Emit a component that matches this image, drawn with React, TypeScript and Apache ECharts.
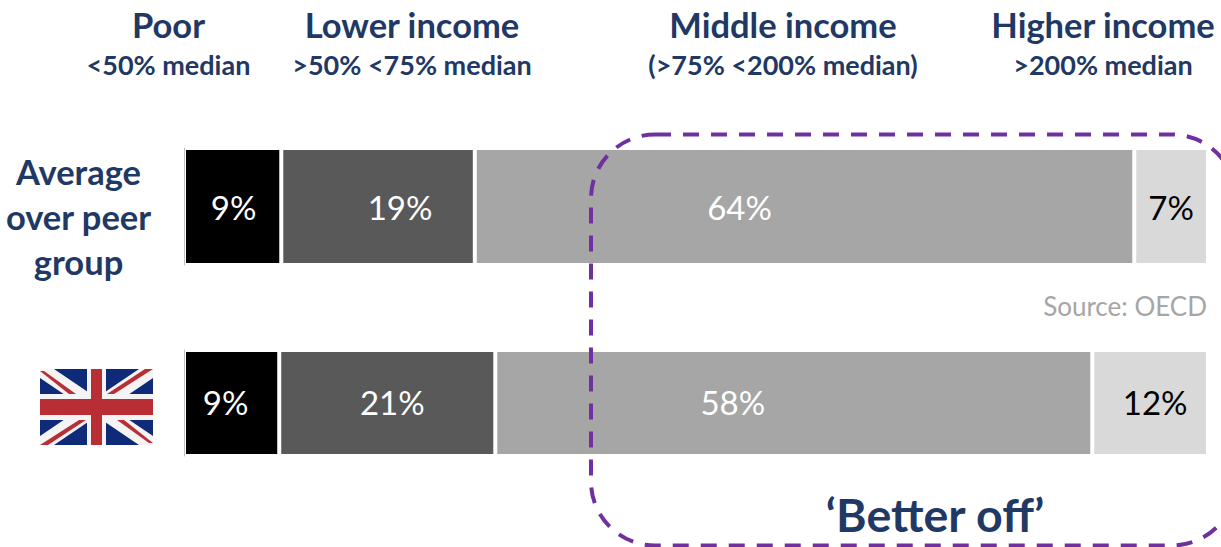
import React, { useEffect, useRef } from "react";
import * as echarts from "echarts";

const FONT = "Lato, 'Noto Sans', sans-serif";
const NAVY = "#1F3864";
const PURPLE = "#7030A0";

const bandNames = ["Poor", "Lower income", "Middle income", "Higher income"];
const bandNotes = ["<50% median", ">50% <75% median", "(>75% <200% median)", ">200% median"];
const rowNames = ["Average\nover peer\ngroup", "United Kingdom"];
const averageWidths = [9.5, 18.9, 64.4, 7.2];
const ukWidths = [9.3, 21.1, 58.3, 11.3];
const averageLabels = ["9%", "19%", "64%", "7%"];
const ukLabels = ["9%", "21%", "58%", "12%"];
const bandColors = ["#000000", "#595959", "#A6A6A6", "#D9D9D9"];
const labelColors = ["#FFFFFF", "#FFFFFF", "#FFFFFF", "#000000"];
const averageLabelShift = [1, 22, -65, 0];
const ukLabelShift = [-6, 5, -61, 5];
const headerCentres = [168.5, 412, 783, 1103];

function rowSeries(rowIndex: number, widths: number[], labels: string[], shifts: number[], stack: string, dy: number) {
  return bandNames.map((name, i) => ({
    type: "bar" as const,
    name,
    stack,
    xAxisIndex: rowIndex,
    yAxisIndex: rowIndex,
    barWidth: "100%",
    data: [widths[i]],
    itemStyle: { color: bandColors[i], borderColor: "#FFFFFF", borderWidth: 2 },
    label: {
      show: true,
      position: "inside" as const,
      offset: [shifts[i], dy],
      formatter: () => labels[i],
      color: labelColors[i],
      fontFamily: FONT,
      fontSize: 33,
      fontWeight: 400,
    },
    silent: true,
  }));
}

function flag(x: number, y: number, w: number, h: number) {
  const blue = "#0F2A78";
  const red = "#B92D35";
  const white = "#F4F4F4";
  const r = x + w;
  const b = y + h;
  const poly = (points: number[][], fill: string) => ({ type: "polygon", shape: { points }, style: { fill }, z: 20 });
  return {
    type: "group",
    children: [
      { type: "rect", shape: { x, y, width: w, height: h }, style: { fill: blue }, z: 20 },
      poly([[x, y], [x + 14, y], [r, b - 9], [r, b], [r - 14, b], [x, y + 9]], white),
      poly([[r, y], [r, y + 9], [x + 14, b], [x, b], [x, b - 9], [r - 14, y]], white),
      poly([[x, y + 2], [x + 4, y + 2], [x + 36, y + 25], [x + 29, y + 25]], red),
      poly([[r, y], [r - 8, y], [r - 46, y + 25], [r - 39, y + 25]], red),
      poly([[x, b], [x + 8, b], [x + 46, b - 25], [x + 39, b - 25]], red),
      poly([[r, b - 2], [r - 4, b - 2], [r - 36, b - 25], [r - 29, b - 25]], red),
      { type: "rect", shape: { x: x + w / 2 - 9.5, y, width: 19, height: h }, style: { fill: white }, z: 20 },
      { type: "rect", shape: { x, y: y + h / 2 - 13, width: w, height: 26 }, style: { fill: white }, z: 20 },
      { type: "rect", shape: { x: x + w / 2 - 5.5, y, width: 11, height: h }, style: { fill: red }, z: 21 },
      { type: "rect", shape: { x, y: y + h / 2 - 8, width: w, height: 16 }, style: { fill: red }, z: 21 },
    ],
  };
}

function headerText(text: string, x: number, y: number, fontSize: number) {
  return {
    type: "text",
    x,
    y,
    z: 20,
    style: { text, fill: NAVY, fontFamily: FONT, fontWeight: 700, fontSize, align: "center", verticalAlign: "middle" },
  };
}

export default function App() {
  const ref = useRef<HTMLDivElement>(null);

  useEffect(() => {
    const chart = echarts.init(ref.current!, null, { renderer: "svg" });
    const valueAxis = (gridIndex: number) => ({
      type: "value" as const,
      gridIndex,
      min: 0,
      max: 100,
      show: false,
    });
    const rowAxis = (gridIndex: number) => ({
      type: "category" as const,
      gridIndex,
      data: [rowNames[gridIndex]],
      z: 5,
      axisLine: { show: true, lineStyle: { color: "#BFBFBF", width: 1 } },
      axisTick: { show: false },
      axisLabel: { show: false },
    });
    chart.setOption({
      animation: false,
      grid: [
        { left: 184, top: 148, width: 1024, height: 117 },
        { left: 184, top: 350, width: 1024, height: 106 },
      ],
      xAxis: [valueAxis(0), valueAxis(1)],
      yAxis: [rowAxis(0), rowAxis(1)],
      series: [
        ...rowSeries(0, averageWidths, averageLabels, averageLabelShift, "average", 0),
        ...rowSeries(1, ukWidths, ukLabels, ukLabelShift, "uk", -1),
      ],
      graphic: [
        ...bandNames.map((t, i) => headerText(t, headerCentres[i], 24.5, 34.5)),
        ...bandNotes.map((t, i) => headerText(t, headerCentres[i], 64.5, 27)),
        {
          type: "text",
          x: 78.5,
          y: 216,
          z: 20,
          style: {
            text: rowNames[0],
            fill: NAVY,
            fontFamily: FONT,
            fontWeight: 700,
            fontSize: 34.5,
            lineHeight: 45,
            align: "center",
            verticalAlign: "middle",
          },
        },
        flag(40, 369, 113, 76),
        {
          type: "text",
          x: 1207,
          y: 306,
          z: 20,
          style: { text: "Source: OECD", fill: "#A6A6A6", fontFamily: FONT, fontSize: 26, align: "right", verticalAlign: "middle" },
        },
        {
          type: "text",
          x: 935,
          y: 513.5,
          z: 20,
          style: { text: "‘Better off’", fill: NAVY, fontFamily: FONT, fontWeight: 700, fontSize: 46.5, align: "center", verticalAlign: "middle" },
        },
        {
          type: "rect",
          z: 30,
          shape: { x: 591, y: 134.5, width: 645, height: 411, r: 64 },
          style: { fill: "none", stroke: PURPLE, lineWidth: 4, lineDash: [16, 12] },
        },
      ],
    });
    return () => chart.dispose();
  }, []);

  return (
    <div
      ref={ref}
      style={{ position: "fixed", left: 0, top: 0, width: 1221, height: 547, background: "#FFFFFF", overflow: "hidden" }}
    />
  );
}
